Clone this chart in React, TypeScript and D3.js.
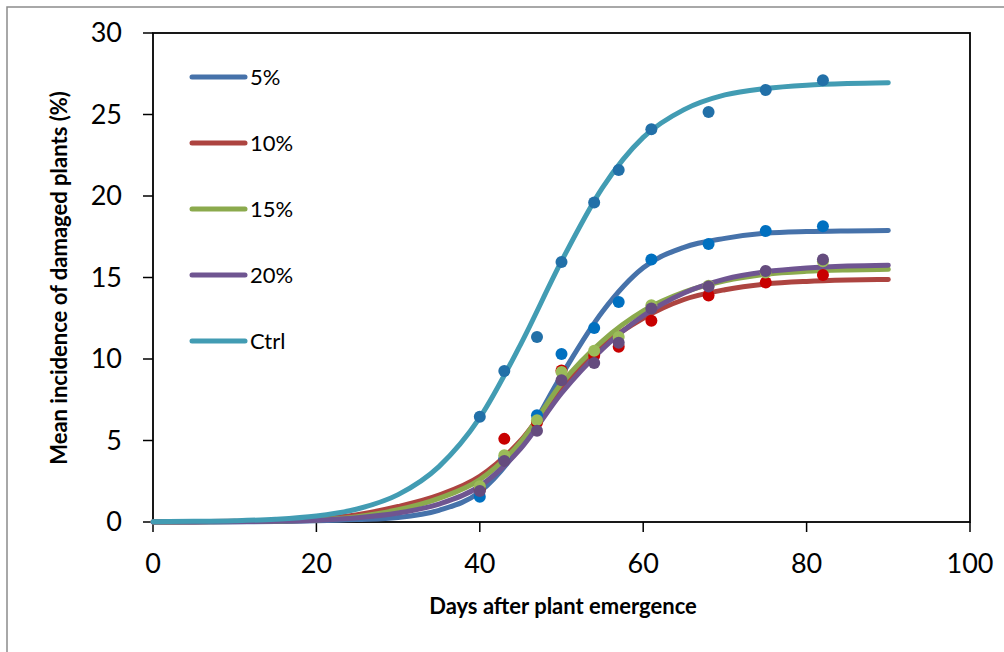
import React from 'react';
import * as d3 from 'd3';

// fitted curves, sampled every 5 days
const fitDays = [0, 5, 10, 15, 20, 25, 30, 35, 40, 45, 50, 55, 60, 65, 70, 75, 80, 85, 90];
const fit5 = [0, 0.005, 0.01, 0.03, 0.07, 0.15, 0.28, 0.72, 1.85, 4.7, 9.0, 12.9, 15.6, 16.85, 17.4, 17.72, 17.82, 17.86, 17.88];
const fit10 = [0.01, 0.02, 0.04, 0.09, 0.19, 0.45, 0.95, 1.65, 2.8, 5.0, 8.3, 10.8, 12.5, 13.65, 14.25, 14.6, 14.76, 14.84, 14.88];
const fit15 = [0.005, 0.01, 0.03, 0.06, 0.13, 0.33, 0.75, 1.45, 2.6, 4.9, 8.5, 11.1, 12.95, 14.1, 14.8, 15.2, 15.38, 15.46, 15.5];
const fit20 = [0, 0.005, 0.02, 0.05, 0.11, 0.26, 0.55, 1.1, 2.2, 4.5, 7.9, 10.6, 12.65, 14.05, 14.9, 15.35, 15.58, 15.7, 15.75];
const fitCtrl = [0.02, 0.04, 0.08, 0.17, 0.37, 0.8, 1.68, 3.4, 6.4, 10.9, 16.0, 20.5, 23.6, 25.3, 26.2, 26.6, 26.8, 26.9, 26.95];

// observed means
const obsDays = [40, 43, 47, 50, 54, 57, 61, 68, 75, 82];
const obs5 = [1.55, 3.9, 6.55, 10.3, 11.9, 13.5, 16.1, 17.05, 17.85, 18.15];
const obs10 = [2.0, 5.1, 6.1, 9.3, 10.2, 10.75, 12.35, 13.9, 14.7, 15.15];
const obs15 = [2.2, 4.1, 6.25, 9.2, 10.5, 11.35, 13.3, 14.5, 15.3, 16.0];
const obs20 = [1.9, 3.75, 5.6, 8.7, 9.75, 11.0, 13.1, 14.45, 15.4, 16.1];
const obsCtrl = [6.45, 9.26, 11.35, 15.95, 19.6, 21.6, 24.1, 25.15, 26.5, 27.1];

const seriesNames = ['5%', '10%', '15%', '20%', 'Ctrl'];
const xTicks = [0, 20, 40, 60, 80, 100];
const yTicks = [0, 5, 10, 15, 20, 25, 30];

const series = [
  { name: seriesNames[0], fit: fit5, obs: obs5, line: '#4672AA', dot: '#0070C0' },
  { name: seriesNames[1], fit: fit10, obs: obs10, line: '#AD4440', dot: '#C80000' },
  { name: seriesNames[2], fit: fit15, obs: obs15, line: '#8BAA4D', dot: '#9BBB59' },
  { name: seriesNames[3], fit: fit20, obs: obs20, line: '#6F5591', dot: '#654C7E' },
  { name: seriesNames[4], fit: fitCtrl, obs: obsCtrl, line: '#429CB3', dot: '#2270A8' },
];

const FONT = 'Lato, "Open Sans", sans-serif';

export default function App() {
  const left = 153, right = 970, top = 33, bottom = 522;
  const x = d3.scaleLinear().domain([0, 100]).range([left, right]);
  const y = d3.scaleLinear().domain([0, 30]).range([bottom, top]);

  const line = d3.line<number>()
    .x((d, i) => x(fitDays[i]))
    .y(d => y(d))
    .curve(d3.curveMonotoneX);

  return (
    <svg width={1004} height={652} style={{ position: 'absolute', left: 0, top: 0, background: '#fff' }}>
      <rect x={7} y={7} width={1010} height={660} fill="#fff" stroke="#8c8c8c" strokeWidth={1.5} />

      {/* y axis ticks */}
      {yTicks.map(t => (
        <g key={'y' + t}>
          <line x1={left - 10} x2={left} y1={y(t)} y2={y(t)} stroke="#000" strokeWidth={1.5} />
          <text x={122} y={y(t)} dy="0.35em" textAnchor="end" fontFamily={FONT} fontSize={27} fill="#000">{t}</text>
        </g>
      ))}
      {xTicks.map(t => (
        <g key={'x' + t}>
          <line x1={x(t)} x2={x(t)} y1={bottom} y2={bottom + 10} stroke="#000" strokeWidth={1.5} />
          <text x={x(t)} y={564} dy="0.35em" textAnchor="middle" fontFamily={FONT} fontSize={27} fill="#000">{t}</text>
        </g>
      ))}

      <rect x={left} y={top} width={right - left} height={bottom - top} fill="none" stroke="#000" strokeWidth={1.8} />

      {/* fitted lines */}
      {series.map(s => (
        <path key={'l' + s.name} d={line(s.fit) || ''} fill="none" stroke={s.line} strokeWidth={5} strokeLinecap="round" />
      ))}

      {/* observed points */}
      {series.map(s => (
        <g key={'p' + s.name}>
          {s.obs.map((v, i) => (
            <circle key={i} cx={x(obsDays[i])} cy={y(v)} r={6} fill={s.dot} />
          ))}
        </g>
      ))}

      {/* legend */}
      {series.map((s, i) => (
        <g key={'lg' + s.name} transform={`translate(0, ${77 + i * 66})`}>
          <line x1={192} x2={245} y1={0} y2={0} stroke={s.line} strokeWidth={5} strokeLinecap="round" />
          <text x={250} y={0} dy="0.35em" fontFamily={FONT} fontSize={22} fill="#000">{s.name}</text>
        </g>
      ))}

      <text x={563} y={614} textAnchor="middle" fontFamily={FONT} fontSize={22} fontWeight="bold" fill="#000">
        Days after plant emergence
      </text>
      <text transform={`translate(67, 278) rotate(-90)`} textAnchor="middle" fontFamily={FONT} fontSize={22} fontWeight="bold" fill="#000">
        Mean incidence of damaged plants (%)
      </text>
    </svg>
  );
}
